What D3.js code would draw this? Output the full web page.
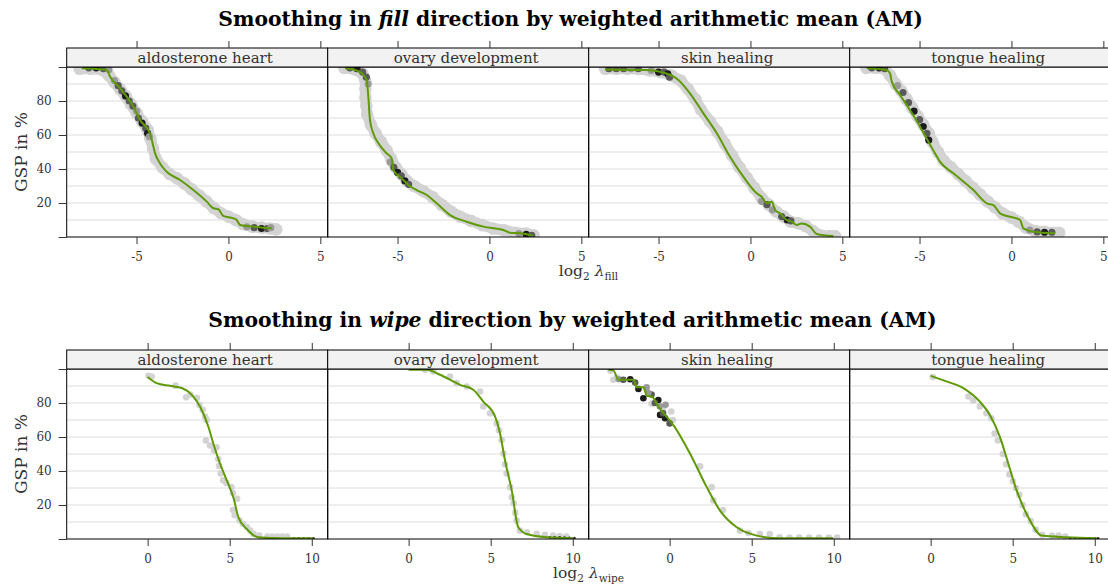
<!DOCTYPE html>
<html>
<head>
<meta charset="utf-8">
<script src="https://cdn.jsdelivr.net/npm/d3@7"></script>
<style>
  body { margin: 0; background: #fff; }
  svg { display: block; font-family: 'DejaVu Serif', serif; }
</style>
</head>
<body>
<script>
// ---- data ----
var panelNames = ['aldosterone heart', 'ovary development', 'skin healing', 'tongue healing'];
var fillTicks = [-5, 0, 5];
var wipeTicks = [0, 5, 10];
var yTicks = [0, 20, 40, 60, 80, 100];
var yTickLabels = [20, 40, 60, 80];
var gridLevels = [10, 20, 30, 40, 50, 60, 70, 80, 90];

// fill direction: smoothed line, raw point cloud, dense bins [x, y, level]
var fillAldoLine = [[-7.98,99.2],[-6.62,98.2],[-6.44,94.3],[-5.90,87.5],[-5.17,76.6],[-4.81,68.8],[-4.27,61],[-4.17,57.1],[-3.99,49.2],[-3.72,43.3],[-3.36,38.4],[-2.63,33.5],[-1.91,27.6],[-1.18,20.8],[-0.82,16.9],[-0.55,16.3],[-0.28,12.4],[0.27,11.0],[0.45,10],[0.63,7.1],[1.35,6.1],[2.36,5.1]];
var fillAldoCloud = [[-8.1,99],[-7.5,99],[-6.9,98.5],[-6.5,95],[-6.2,91],[-5.9,87],[-5.6,83],[-5.3,78],[-5.0,73],[-4.7,68],[-4.4,63],[-4.25,58],[-4.1,52],[-3.95,46],[-3.6,41],[-3.2,37],[-2.8,34.5],[-2.4,31.5],[-2.0,28],[-1.6,24.5],[-1.2,21],[-0.8,17],[-0.4,14],[0,12],[0.4,10],[0.8,7.5],[1.3,6],[1.8,5.5],[2.3,5],[2.6,4.5]];
var fillAldoDense = [[-7.6,99.5,3],[-7.2,99.5,4],[-6.8,99,3],[-6.5,98.5,2],[-6.2,92,2],[-6.0,89,3],[-5.8,86,3],[-5.6,83,4],[-5.4,80,3],[-5.2,77,3],[-5.0,74,2],[-4.9,70,3],[-4.7,67,4],[-4.5,64,3],[-4.4,61,4],[-4.3,59,2],[1.0,6,2],[1.4,5.5,3],[1.8,5,4],[2.1,5,3],[2.3,5.5,2]];

var fillOvaryLine = [[-7.86,99.2],[-7.31,98.2],[-6.95,96.3],[-6.68,92.4],[-6.59,82.5],[-6.50,68.8],[-6.32,61],[-6.04,55.1],[-5.59,49.2],[-5.32,46.3],[-5.23,39.4],[-4.77,34.5],[-4.41,30.6],[-3.96,27.6],[-3.41,24.7],[-2.87,19.8],[-2.14,12.9],[-1.24,9.0],[-0.33,6.1],[0.76,4.1],[1.12,2.5],[1.66,2.2],[2.39,0.8]];
var fillOvaryCloud = [[-7.9,99.5],[-7.3,98.5],[-6.9,96],[-6.75,92],[-6.75,87],[-6.75,82],[-6.7,77],[-6.65,72],[-6.45,66],[-6.2,61],[-5.9,56],[-5.6,51],[-5.35,46],[-5.1,41],[-4.8,37],[-4.5,33],[-4.1,30],[-3.6,27],[-3.1,23.5],[-2.6,19],[-2.1,15],[-1.6,12],[-1.0,9.5],[-0.4,7],[0.2,5],[0.8,4],[1.4,2.5],[2.0,2],[2.4,1]];
var fillOvaryDense = [[-7.6,99.5,3],[-7.2,99,4],[-6.9,97,3],[-6.7,94,3],[-6.6,90,2],[-5.4,44,2],[-5.2,41,3],[-5.0,38,4],[-4.8,36,3],[-4.6,33,4],[-4.4,31,3],[1.6,2,2],[2.0,1.5,4],[2.3,1,3]];

var fillSkinLine = [[-7.91,98.6],[-5.64,98.2],[-4.74,96.7],[-3.92,92.4],[-3.29,84.5],[-2.56,72.7],[-1.83,61],[-1.11,47.2],[-0.39,35.5],[0.34,25.7],[0.61,23.7],[0.89,19.8],[1.16,20.8],[1.34,15.9],[1.61,13.9],[1.97,10.0],[2.25,9.0],[2.52,7.1],[2.79,8.0],[3.24,6.1],[3.61,1.8],[4.51,0.6]];
var fillSkinCloud = [[-7.9,99],[-7.3,99],[-6.7,99],[-6.1,98.8],[-5.5,98],[-4.9,97],[-4.3,95],[-3.8,92],[-3.4,87],[-3.0,81],[-2.7,75],[-2.2,68],[-1.8,62],[-1.4,55],[-1.0,48],[-0.6,41],[-0.2,35],[0.2,29],[0.6,23],[1.0,19],[1.4,15],[1.8,12],[2.2,9],[2.6,8],[3.0,6.5],[3.4,3.5],[3.8,1],[4.3,0.5],[4.6,0.5]];
var fillSkinDense = [[-7.7,99,3],[-7.3,99,3],[-6.9,99,3],[-6.5,99,2],[-6.1,99,3],[-5.4,98,2],[-5.0,97,4],[-4.7,97,3],[-4.5,96,4],[-4.4,94,3],[0.6,21,2],[0.9,19,3],[1.2,16,2],[1.7,12,3],[2.0,10,4],[2.2,9.5,3]];

var fillTongueLine = [[-7.87,99.2],[-6.79,98.2],[-6.61,96.3],[-6.51,91.4],[-6.06,83.5],[-5.52,74.7],[-4.97,64.9],[-4.52,56.1],[-4.16,49.2],[-3.89,44.3],[-3.16,37.5],[-2.07,27.6],[-1.34,19.8],[-0.98,18.8],[-0.62,13.9],[0.47,10],[0.65,5.1],[1.19,3.1],[2.37,2.2]];
var fillTongueCloud = [[-7.9,99.5],[-7.4,99.5],[-6.9,99],[-6.6,95],[-6.3,90],[-6.0,86],[-5.7,81],[-5.4,76],[-5.1,71],[-4.8,66],[-4.5,61],[-4.3,56],[-4.0,50],[-3.7,45],[-3.3,41],[-2.9,37],[-2.5,33],[-2.1,29],[-1.7,25],[-1.3,21],[-0.9,17.5],[-0.5,14],[0,11.5],[0.4,9],[0.8,5.5],[1.3,3.5],[1.8,3],[2.3,2.5],[2.6,2.5]];
var fillTongueDense = [[-7.6,99.5,3],[-7.2,99.5,4],[-6.9,99,3],[-6.2,89,2],[-5.9,85,3],[-5.6,79,3],[-5.3,74,4],[-5.0,69,3],[-4.8,65,4],[-4.6,61,3],[-4.5,57,4],[1.0,4,2],[1.4,3,3],[1.8,2.8,4],[2.2,2.8,3]];

// wipe direction: smoothed line, raw points, dense points [x, y, level], tail of overlapping points
var wipeAldoLine = [[0.0,95.3],[0.55,91.7],[1.36,90.1],[2.08,88.8],[2.69,84.8],[3.19,77.9],[3.70,66.0],[4.0,56.2],[4.41,44.4],[4.82,34.5],[5.22,24.6],[5.53,12.8],[6.04,5.9],[6.74,1.0],[8.26,0.4],[10.09,0.4]];
var wipeAldoPoints = [[0.05,96],[0.25,95.6],[1.7,90.2],[2.35,83.4],[2.6,85],[3.0,83],[3.15,79],[3.35,76],[3.5,72],[3.6,70],[3.55,58],[3.8,55],[4.05,52],[4.2,54],[4.3,47],[4.35,43],[4.45,38.5],[4.6,34.5],[4.8,33],[5.1,30.5],[5.2,27],[5.45,23.7],[5.2,17],[5.3,14],[5.6,11],[5.8,9],[6.05,7],[6.25,5],[6.45,3],[6.8,2],[7.3,1.4],[7.6,1.4],[7.9,1.4],[8.2,1.4],[8.5,1.4]];
var wipeAldoDense = [];
var wipeAldoTail = [[8.9,0.4],[9.2,0.4],[9.5,0.4],[9.8,0.4],[10.1,0.4]];

var wipeOvaryLine = [[0,99.6],[1.10,99.6],[1.91,96.6],[3.13,90.7],[3.94,87.8],[4.55,80.8],[5.27,72.0],[5.57,62.1],[5.87,46.3],[6.28,28.6],[6.68,6.9],[7.19,2.9],[8.41,1.0],[10.04,0.4]];
var wipeOvaryPoints = [[1.0,99.5],[1.5,98.6],[2.52,95.6],[2.93,91.7],[3.54,89.7],[4.35,86.8],[4.55,77.9],[4.96,73.9],[5.37,68],[5.5,64],[5.67,58.2],[5.77,50.3],[5.87,44],[5.97,38.5],[6.18,30.5],[6.28,24.6],[6.4,21],[6.5,15.5],[6.58,10.8],[6.78,4.9],[7.2,4],[7.8,3],[8.3,2.5],[8.8,2],[9.2,1.8],[9.6,1.5]];
var wipeOvaryDense = [];
var wipeOvaryTail = [[8.6,1],[8.9,1],[9.2,1],[9.5,0.8],[9.8,0.6],[10.1,0.5]];

var wipeSkinLine = [[-3.73,99.6],[-3.43,99.2],[-3.12,93.7],[-2.21,93.7],[-2.0,89.3],[-1.60,89.3],[-1.39,84.2],[-1.09,83.8],[-0.69,77.9],[-0.28,73.0],[0.23,67.0],[1.24,50.3],[2.26,30.5],[3.07,16.7],[4.09,6.9],[5.30,2.0],[6.72,0.4],[9.97,0.4]];
var wipeSkinPoints = [[-3.6,99],[-3.43,93.7],[-3.2,95],[-1.1,79.5],[-0.4,76],[0.1,75],[0.2,70],[1.85,42.7],[2.56,30.5],[2.66,22.7],[3.25,17],[4.28,4.9],[4.8,3.5],[5.5,2.9],[6.1,2.9],[6.7,1],[7.3,0.8],[7.9,0.8],[8.5,0.8],[9.1,0.8],[9.7,0.8],[10.2,0.8]];
var wipeSkinDense = [[-3.1,94,2],[-2.82,93.7,3],[-2.4,94,4],[-2.1,92,3],[-1.9,88.2,4],[-1.4,89.3,2],[-1.6,82.8,4],[-1.1,85,3],[-1.3,86,2],[-0.69,81.8,4],[-0.9,80,3],[-0.6,78,2],[-0.58,73,4],[-0.28,71,4],[-0.4,74,3],[0,68,3],[-0.25,79,2]];
var wipeSkinTail = [];

var wipeTongueLine = [[0,96.0],[0.97,92.7],[1.99,88.8],[3.0,80.8],[3.61,73.0],[4.22,60.1],[4.73,44.4],[5.24,28.6],[5.95,12.8],[6.77,2.0],[8.29,1.0],[10.12,0.4]];
var wipeTonguePoints = [[0.13,95.3],[2.3,83.8],[2.6,81.5],[3.0,78],[3.4,74],[3.7,71],[3.9,62],[4.1,58],[4.4,50],[4.6,44],[4.8,38],[5.0,34],[5.2,30],[5.4,26],[5.6,20],[5.8,14.5],[6.1,10.5],[6.4,5.5],[6.8,2.5],[7.4,2],[7.8,2],[8.2,1.4]];
var wipeTongueDense = [];
var wipeTongueTail = [[8.5,0.4],[8.8,0.4],[9.1,0.4],[9.4,0.4],[9.7,0.4],[10.0,0.4],[10.2,0.4]];

// ---- layout ----
var W = 1108, H = 587;
var left = 66.7, pw = 261, ph = 170, stripH = 19;
var green = '#5f9a05';
var shade = {1: '#d3d3d3', 2: '#9a9a9a', 3: '#5a5a5a', 4: '#1c1c1c'};

var rows = [
  { word: 'fill', top: 67, domain: [-8.8, 5.4], ticks: fillTicks, band: true,
    titleX: 218.3, titleW: 705, titleY: 26,
    lines: [fillAldoLine, fillOvaryLine, fillSkinLine, fillTongueLine],
    points: [fillAldoCloud, fillOvaryCloud, fillSkinCloud, fillTongueCloud],
    dense: [fillAldoDense, fillOvaryDense, fillSkinDense, fillTongueDense],
    tails: [[], [], [], []] },
  { word: 'wipe', top: 369, domain: [-4.93, 10.97], ticks: wipeTicks, band: false,
    titleX: 208.3, titleW: 729, titleY: 327,
    lines: [wipeAldoLine, wipeOvaryLine, wipeSkinLine, wipeTongueLine],
    points: [wipeAldoPoints, wipeOvaryPoints, wipeSkinPoints, wipeTonguePoints],
    dense: [wipeAldoDense, wipeOvaryDense, wipeSkinDense, wipeTongueDense],
    tails: [wipeAldoTail, wipeOvaryTail, wipeSkinTail, wipeTongueTail] }
];

var svg = d3.select('body').append('svg')
  .attr('width', W)
  .attr('height', H);

var defs = svg.append('defs');

rows.forEach(function(row, ri) {
  var top = row.top, bottom = top + ph;
  var y = d3.scaleLinear().domain([0, 100]).range([bottom, top]);

  // title with italic bold word
  var title = svg.append('text')
    .attr('x', row.titleX)
    .attr('y', row.titleY)
    .attr('font-weight', 'bold')
    .attr('font-size', 18)
    .attr('fill', '#000');
  title.append('tspan').text('Smoothing in ');
  title.append('tspan').attr('font-style', 'italic').text(row.word);
  title.append('tspan').text(' direction by weighted arithmetic mean (AM)');
  var tw = title.node().getComputedTextLength();
  title.attr('font-size', 18 * row.titleW / tw);

  panelNames.forEach(function(name, j) {
    var x0 = left + j * pw;
    var x = d3.scaleLinear().domain(row.domain).range([x0, x0 + pw]);
    var g = svg.append('g');

    // grid
    g.selectAll('line.grid').data(gridLevels).enter().append('line')
      .attr('x1', x0).attr('x2', x0 + pw)
      .attr('y1', function(d) { return y(d); })
      .attr('y2', function(d) { return y(d); })
      .attr('stroke', '#dcdcdc')
      .attr('stroke-width', 1);

    var clipId = 'clip' + ri + '_' + j;
    defs.append('clipPath').attr('id', clipId)
      .append('rect').attr('x', x0).attr('y', top).attr('width', pw).attr('height', ph);
    var plot = g.append('g').attr('clip-path', 'url(#' + clipId + ')');

    var pts = row.points[j];
    if (row.band) {
      plot.append('path')
        .datum(pts)
        .attr('d', d3.line().x(function(d) { return x(d[0]); }).y(function(d) { return y(d[1]); }))
        .attr('fill', 'none')
        .attr('stroke', shade[1])
        .attr('stroke-width', 11)
        .attr('stroke-linejoin', 'round')
        .attr('stroke-linecap', 'round');
    }
    plot.selectAll('circle.pt').data(pts).enter().append('circle')
      .attr('cx', function(d) { return x(d[0]); })
      .attr('cy', function(d) { return y(d[1]); })
      .attr('r', row.band ? 6.3 : 3.3)
      .attr('fill', shade[1]);

    plot.selectAll('circle.dense').data(row.dense[j]).enter().append('circle')
      .attr('cx', function(d) { return x(d[0]); })
      .attr('cy', function(d) { return y(d[1]); })
      .attr('r', row.band ? 3.6 : 3.3)
      .attr('fill', function(d) { return shade[d[2]]; });

    plot.selectAll('circle.tail').data(row.tails[j]).enter().append('circle')
      .attr('cx', function(d) { return x(d[0]); })
      .attr('cy', function(d) { return y(d[1]); })
      .attr('r', 1.4)
      .attr('fill', '#333');

    plot.append('path')
      .datum(row.lines[j])
      .attr('d', d3.line().curve(d3.curveMonotoneX)
        .x(function(d) { return x(d[0]); })
        .y(function(d) { return y(d[1]); }))
      .attr('fill', 'none')
      .attr('stroke', green)
      .attr('stroke-width', 2);

    // panel border
    g.append('rect')
      .attr('x', x0).attr('y', top).attr('width', pw).attr('height', ph)
      .attr('fill', 'none').attr('stroke', '#000').attr('stroke-width', 1);

    // strip
    g.append('rect')
      .attr('x', x0).attr('y', top - stripH).attr('width', pw).attr('height', stripH)
      .attr('fill', '#f2f2f2').attr('stroke', '#000').attr('stroke-width', 1);
    g.append('text')
      .attr('x', x0 + pw / 2 + 8)
      .attr('y', top - 4)
      .attr('text-anchor', 'middle')
      .attr('font-size', 15)
      .attr('fill', '#333')
      .text(name);

    // bottom axis with labels
    var xb = g.append('g')
      .attr('transform', 'translate(0,' + bottom + ')')
      .call(d3.axisBottom(x).tickValues(row.ticks).tickSize(7).tickSizeOuter(0)
        .tickFormat(function(d) { return String(d); }));
    xb.select('.domain').remove();
    xb.selectAll('text').attr('y', 24).attr('dy', null)
      .attr('font-size', 12).attr('font-family', 'DejaVu Serif').attr('fill', '#333');
    xb.selectAll('line').attr('stroke', '#333');

    // top ticks (no labels)
    var xt = g.append('g')
      .attr('transform', 'translate(0,' + (top - stripH) + ')')
      .call(d3.axisTop(x).tickValues(row.ticks).tickSize(7).tickSizeOuter(0).tickFormat(''));
    xt.select('.domain').remove();
    xt.selectAll('line').attr('stroke', '#333');

    if (j === 0) {
      var ya = g.append('g')
        .attr('transform', 'translate(' + x0 + ',0)')
        .call(d3.axisLeft(y).tickValues(yTicks).tickSize(8).tickSizeOuter(0)
          .tickFormat(function(d) { return yTickLabels.indexOf(d) >= 0 ? d : ''; }));
      ya.select('.domain').remove();
      ya.selectAll('text').attr('x', -15)
        .attr('font-size', 12).attr('font-family', 'DejaVu Serif').attr('fill', '#333');
      ya.selectAll('line').attr('stroke', '#333');

      svg.append('text')
        .attr('transform', 'translate(26.5,' + (top + ph / 2) + ') rotate(-90)')
        .attr('text-anchor', 'middle')
        .attr('font-size', 17)
        .attr('fill', '#333')
        .text('GSP in %');
    }
  });

  // x label: log2 lambda_word
  var xl = svg.append('text')
    .attr('x', 588.5)
    .attr('y', bottom + 39)
    .attr('text-anchor', 'middle')
    .attr('font-size', 15.5)
    .attr('fill', '#333');
  xl.append('tspan').text('log');
  xl.append('tspan').attr('font-size', 10.5).attr('dy', 4).text('2');
  xl.append('tspan').attr('font-style', 'italic').attr('dx', 5).attr('dy', -4).text('λ');
  xl.append('tspan').attr('font-size', 10.5).attr('dy', 4).text(row.word);
});
</script>
</body>
</html>
